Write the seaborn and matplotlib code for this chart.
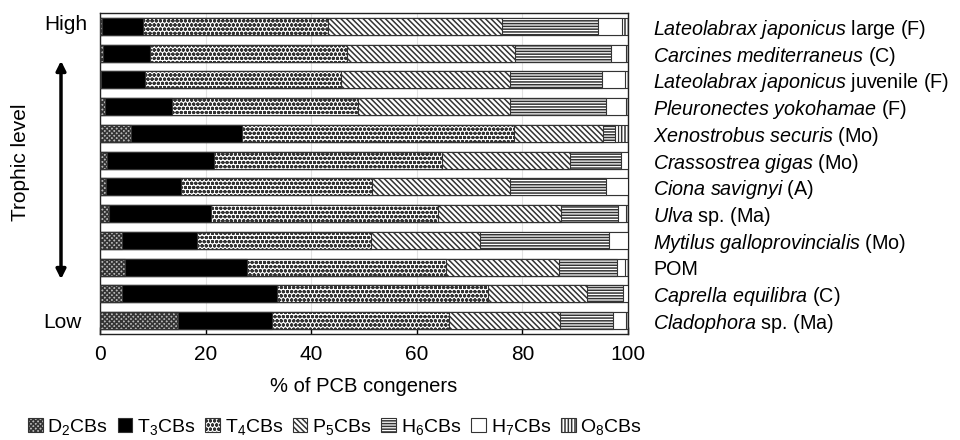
import numpy as np
import pandas as pd
import matplotlib
matplotlib.use("Agg")
import matplotlib.pyplot as plt
import seaborn as sns
from matplotlib.patches import Patch

# --- dados (% de cada grupo de congêneres, de cima para baixo) ---
species = [
    r"$\mathit{Lateolabrax\ japonicus}$ large (F)",
    r"$\mathit{Carcines\ mediterraneus}$ (C)",
    r"$\mathit{Lateolabrax\ japonicus}$ juvenile (F)",
    r"$\mathit{Pleuronectes\ yokohamae}$ (F)",
    r"$\mathit{Xenostrobus\ securis}$ (Mo)",
    r"$\mathit{Crassostrea\ gigas}$ (Mo)",
    r"$\mathit{Ciona\ savignyi}$ (A)",
    r"$\mathit{Ulva}$ sp. (Ma)",
    r"$\mathit{Mytilus\ galloprovincialis}$ (Mo)",
    "POM",
    r"$\mathit{Caprella\ equilibra}$ (C)",
    r"$\mathit{Cladophora}$ sp. (Ma)",
]
groups = ["D$_2$CBs", "T$_3$CBs", "T$_4$CBs", "P$_5$CBs", "H$_6$CBs", "H$_7$CBs", "O$_8$CBs"]

d2 = [0.3, 0.5, 0.1, 1.0, 5.9, 1.4, 1.2, 1.7, 4.2, 4.7, 4.1, 14.8]
t3 = [7.9, 9.0, 8.5, 12.7, 20.9, 20.1, 14.1, 19.3, 14.1, 23.1, 29.5, 17.7]
t4 = [35.0, 37.2, 37.0, 35.1, 51.7, 43.3, 36.3, 43.0, 33.0, 37.8, 39.9, 33.6]
p5 = [33.0, 31.9, 32.0, 28.8, 16.8, 24.2, 26.0, 23.4, 20.6, 21.3, 18.7, 21.1]
h6 = [18.1, 18.1, 17.5, 18.2, 2.2, 9.6, 18.3, 10.7, 24.5, 11.0, 6.8, 10.0]
h7 = [4.6, 2.9, 4.4, 3.8, 0.6, 1.4, 4.1, 1.5, 3.6, 1.5, 1.0, 2.4]
o8 = [1.1, 0.4, 0.5, 0.4, 1.9, 0.0, 0.0, 0.4, 0.0, 0.6, 0.0, 0.4]

# estilo de cada grupo: (cor, hachura)
styles = [
    ("#b8b8b8", "xxxxxxx"),
    ("black", ""),
    ("white", "oooo"),
    ("white", "\\\\\\\\\\\\"),
    ("white", "------"),
    ("white", ""),
    ("white", "|||||"),
]

sns.set_theme(style="white")
plt.rcParams["font.family"] = ["Liberation Sans", "DejaVu Sans"]
plt.rcParams["mathtext.fontset"] = "custom"
plt.rcParams["mathtext.rm"] = "Liberation Sans"
plt.rcParams["mathtext.it"] = "Liberation Sans:italic"
plt.rcParams["mathtext.default"] = "regular"
plt.rcParams["hatch.linewidth"] = 1.1
for key in ["text.color", "axes.labelcolor", "xtick.color", "ytick.color"]:
    plt.rcParams[key] = "black"

df = pd.DataFrame(np.array([d2, t3, t4, p5, h6, h7, o8]).T, columns=groups)
df["species"] = species
cum = df[groups].cumsum(axis=1)

fig = plt.figure(figsize=(9.6, 4.4), dpi=100)
ax = fig.add_axes([100 / 960, 106 / 440, 528 / 960, 321 / 440])

# barras empilhadas: desenha do acumulado maior para o menor
for k in range(len(groups) - 1, -1, -1):
    fc, hatch = styles[k]
    sns.barplot(x=cum[groups[k]], y=df["species"], orient="h", ax=ax,
                color=fc, saturation=1, hatch=hatch, edgecolor="#333333",
                linewidth=0.8, width=0.63, errorbar=None, zorder=3)

ax.set_xlim(0, 100)
ax.set_xticks([0, 20, 40, 60, 80, 100])
ax.grid(axis="x", color="#e2e2e2", linewidth=0.8, zorder=0)
ax.set_ylabel("")
ax.set_xlabel("% of PCB congeners", fontsize=14.5, labelpad=9)
ax.yaxis.tick_right()
ax.tick_params(axis="y", length=0, pad=18, labelsize=14.2)
ax.tick_params(axis="x", direction="in", length=5, width=1, labelsize=15, pad=8,
               bottom=True, color="black")
for s in ax.spines.values():
    s.set_color("#222222")
    s.set_linewidth(1.0)

# nível trófico à esquerda
fig.text(66 / 960, 1 - 25 / 440, "High", fontsize=15, ha="center", va="center")
fig.text(62 / 960, 1 - 322 / 440, "Low", fontsize=15, ha="center", va="center")
fig.text(21 / 960, 1 - 162 / 440, "Trophic level", fontsize=15, rotation=90,
         ha="center", va="center")
ax.annotate("", xy=(61, 440 - 58), xytext=(61, 440 - 282), xycoords="figure pixels",
            textcoords="figure pixels",
            arrowprops=dict(arrowstyle="<|-|>", lw=2.5, color="black", mutation_scale=14))

handles = [Patch(facecolor=fc, hatch=h, edgecolor="#333333", linewidth=0.8, label=g)
           for (fc, h), g in zip(styles, groups)]
fig.legend(handles=handles, loc="center left", bbox_to_anchor=(28 / 960, 13 / 440),
           ncol=7, frameon=False, fontsize=14, handlelength=0.75, handleheight=0.75,
           handletextpad=0.25, columnspacing=0.5, borderaxespad=0, borderpad=0)

fig.savefig("out.png", dpi=100)
